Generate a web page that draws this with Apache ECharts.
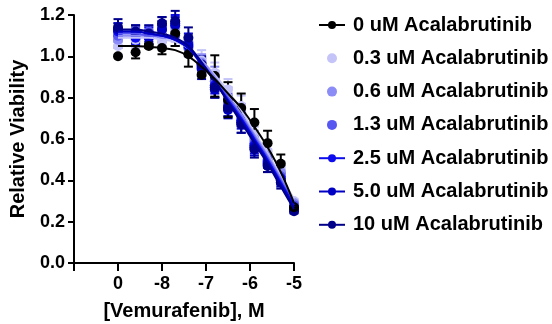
<!DOCTYPE html>
<html><head><meta charset="utf-8">
<script src="https://cdn.jsdelivr.net/npm/echarts/dist/echarts.min.js"></script>
<style>html,body{margin:0;padding:0;background:#fff}#c{width:552px;height:324px}</style>
</head><body><div id="c"></div>
<script>
// log10 [Vemurafenib] (M); the "0" dose is drawn at -9
const logDose = [-9, -8.6, -8.3, -8.0, -7.7, -7.4, -7.1, -6.8, -6.5, -6.2, -5.9, -5.6, -5.3, -5.0];
const xTickValues = [-10, -9, -8, -7, -6, -5];
const xTickLabels = ['', '0', '-8', '-7', '-6', '-5'];

const names = ['0 uM Acalabrutinib', '0.3 uM Acalabrutinib', '0.6 uM Acalabrutinib', '1.3 uM Acalabrutinib',
  '2.5 uM Acalabrutinib', '5.0 uM Acalabrutinib', '10 uM Acalabrutinib'];
const colors = ['#000000', '#c4c4f8', '#8c8cf6', '#5656f0', '#0c0cee', '#0000c4', '#00008a'];
const legendDotOnly = [false, true, true, true, false, false, false];

// measured points
const pts0  = [1.00, 1.02, 1.05, 1.04, 1.11, 1.01, 0.91, 0.905, 0.79, 0.75, 0.68, 0.58, 0.48, 0.27];
const pts03 = [1.05, 1.08, 1.10, 1.07, 1.12, 1.05, 0.98, 0.92, 0.84, 0.76, 0.62, 0.54, 0.46, 0.30];
const pts06 = [1.08, 1.12, 1.11, 1.10, 1.14, 1.07, 0.97, 0.90, 0.80, 0.73, 0.60, 0.52, 0.44, 0.29];
const pts13 = [1.10, 1.10, 1.12, 1.13, 1.10, 1.04, 0.96, 0.88, 0.78, 0.71, 0.58, 0.50, 0.42, 0.28];
const pts25 = [1.12, 1.09, 1.10, 1.15, 1.16, 1.06, 0.95, 0.86, 0.76, 0.69, 0.57, 0.49, 0.41, 0.27];
const pts50 = [1.13, 1.11, 1.09, 1.13, 1.15, 1.05, 0.94, 0.84, 0.74, 0.68, 0.56, 0.48, 0.40, 0.26];
const pts10 = [1.14, 1.12, 1.11, 1.16, 1.17, 1.09, 0.96, 0.85, 0.75, 0.67, 0.55, 0.47, 0.39, 0.25];

// error bar half-heights
const err0  = [0, 0.03, 0.01, 0.03, 0.06, 0.06, 0, 0.10, 0.085, 0.07, 0.065, 0.06, 0.045, 0];
const err03 = [0.04, 0.04, 0.03, 0.04, 0.05, 0.04, 0.05, 0.05, 0.05, 0.05, 0.04, 0.04, 0.03, 0.01];
const err06 = [0.04, 0.03, 0.03, 0.05, 0.04, 0.04, 0.04, 0.05, 0.05, 0.04, 0.04, 0.03, 0.03, 0.01];
const err13 = [0.03, 0.04, 0.03, 0.04, 0.05, 0.04, 0.04, 0.05, 0.04, 0.05, 0.04, 0.04, 0.03, 0.01];
const err25 = [0.04, 0.03, 0.04, 0.04, 0.04, 0.05, 0.04, 0.04, 0.05, 0.04, 0.04, 0.03, 0.03, 0.01];
const err50 = [0.03, 0.04, 0.03, 0.04, 0.04, 0.04, 0.05, 0.04, 0.04, 0.05, 0.04, 0.04, 0.03, 0.01];
const err10 = [0.04, 0.03, 0.04, 0.03, 0.05, 0.05, 0.04, 0.05, 0.04, 0.04, 0.04, 0.03, 0.03, 0.01];

// fitted curves, read at the dose positions
const fit0  = [1.05, 1.05, 1.045, 1.04, 1.03, 1.00, 0.95, 0.89, 0.82, 0.75, 0.66, 0.56, 0.44, 0.29];
const fit03 = [1.09, 1.09, 1.09, 1.08, 1.07, 1.04, 0.98, 0.91, 0.83, 0.74, 0.63, 0.53, 0.42, 0.31];
const fit06 = [1.10, 1.10, 1.10, 1.09, 1.08, 1.04, 0.98, 0.90, 0.81, 0.72, 0.62, 0.52, 0.41, 0.30];
const fit13 = [1.11, 1.11, 1.10, 1.10, 1.08, 1.04, 0.97, 0.89, 0.80, 0.71, 0.61, 0.51, 0.40, 0.29];
const fit25 = [1.12, 1.12, 1.11, 1.10, 1.08, 1.04, 0.97, 0.88, 0.79, 0.70, 0.60, 0.50, 0.39, 0.28];
const fit50 = [1.12, 1.12, 1.11, 1.10, 1.08, 1.04, 0.96, 0.88, 0.78, 0.69, 0.59, 0.49, 0.38, 0.27];
const fit10 = [1.13, 1.13, 1.12, 1.11, 1.09, 1.05, 0.97, 0.88, 0.78, 0.68, 0.58, 0.48, 0.37, 0.26];

const ptsAll = [pts0, pts03, pts06, pts13, pts25, pts50, pts10];
const errAll = [err0, err03, err06, err13, err25, err50, err10];
const fitAll = [fit0, fit03, fit06, fit13, fit25, fit50, fit10];

const FONT = 'Arial, "Liberation Sans", Helvetica, sans-serif';
const pair = arr => logDose.map((x, i) => [x, arr[i]]);

function errSeries(vals, errs, color) {
  return {
    type: 'custom', silent: true,
    data: logDose.map((x, i) => [x, vals[i], errs[i]]),
    encode: { x: 0, y: 1 },
    renderItem(params, api) {
      const x = api.value(0), y = api.value(1), e = api.value(2);
      if (!e) return null;
      const t = api.coord([x, y + e]), b = api.coord([x, y - e]);
      const w = 4.5, st = { stroke: color, lineWidth: 2 };
      return { type: 'group', children: [
        { type: 'line', shape: { x1: t[0], y1: t[1], x2: b[0], y2: b[1] }, style: st },
        { type: 'line', shape: { x1: t[0] - w, y1: t[1], x2: t[0] + w, y2: t[1] }, style: st },
        { type: 'line', shape: { x1: b[0] - w, y1: b[1], x2: b[0] + w, y2: b[1] }, style: st }
      ]};
    }
  };
}

const order = [1, 2, 3, 4, 5, 6, 0];
const series = [];
order.forEach(k => {
  series.push({
    type: 'line', name: names[k], data: pair(fitAll[k]), smooth: 0.4,
    symbol: 'circle', showSymbol: false, symbolSize: 10,
    itemStyle: { color: colors[k] }, lineStyle: { color: colors[k], width: 2 }
  });
  series.push(errSeries(ptsAll[k], errAll[k], colors[k]));
  series.push({
    type: 'scatter', name: 'pts' + k, data: pair(ptsAll[k]), symbol: 'circle', symbolSize: 10,
    itemStyle: { color: colors[k], opacity: 1 }
  });
});

const chart = echarts.init(document.getElementById('c'), null, { renderer: 'canvas' });
chart.setOption({
  animation: false,
  backgroundColor: '#fff',
  grid: { left: 74, right: 258, top: 15, bottom: 61, containLabel: false, outerBoundsMode: 'none' },
  xAxis: {
    type: 'value', min: -10, max: -5, interval: 1,
    name: '[Vemurafenib], M', nameLocation: 'middle', nameGap: 38,
    nameTextStyle: { fontSize: 20, fontWeight: 'bold', color: '#000', fontFamily: FONT },
    axisLine: { show: true, lineStyle: { color: '#000', width: 2 } },
    axisTick: { show: true, length: 8, lineStyle: { color: '#000', width: 2 } },
    axisLabel: {
      fontSize: 18, fontWeight: 'bold', color: '#000', fontFamily: FONT, margin: 12,
      formatter: v => { const i = xTickValues.indexOf(Math.round(v)); return i >= 0 ? xTickLabels[i] : ''; }
    },
    splitLine: { show: false }
  },
  yAxis: {
    type: 'value', min: 0, max: 1.2, interval: 0.2,
    name: 'Relative Viability', nameLocation: 'middle', nameGap: 46, nameRotate: 90,
    nameTextStyle: { fontSize: 20, fontWeight: 'bold', color: '#000', fontFamily: FONT },
    axisLine: { show: true, lineStyle: { color: '#000', width: 2 } },
    axisTick: { show: true, length: 6, lineStyle: { color: '#000', width: 2 } },
    axisLabel: { fontSize: 18, fontWeight: 'bold', color: '#000', fontFamily: FONT, margin: 9,
      formatter: v => v.toFixed(1) },
    splitLine: { show: false }
  },
  legend: {
    orient: 'vertical', left: 313, top: 10, itemWidth: 26, itemHeight: 10, itemGap: 13.3,
    data: names.map((n, i) => legendDotOnly[i] ? { name: n, icon: 'circle' } : { name: n }),
    textStyle: { fontSize: 20, fontWeight: 'bold', color: '#000', fontFamily: FONT, lineHeight: 20, padding: [0, 0, 0, 3] },
    selectedMode: false
  },
  series
});
</script></body></html>
